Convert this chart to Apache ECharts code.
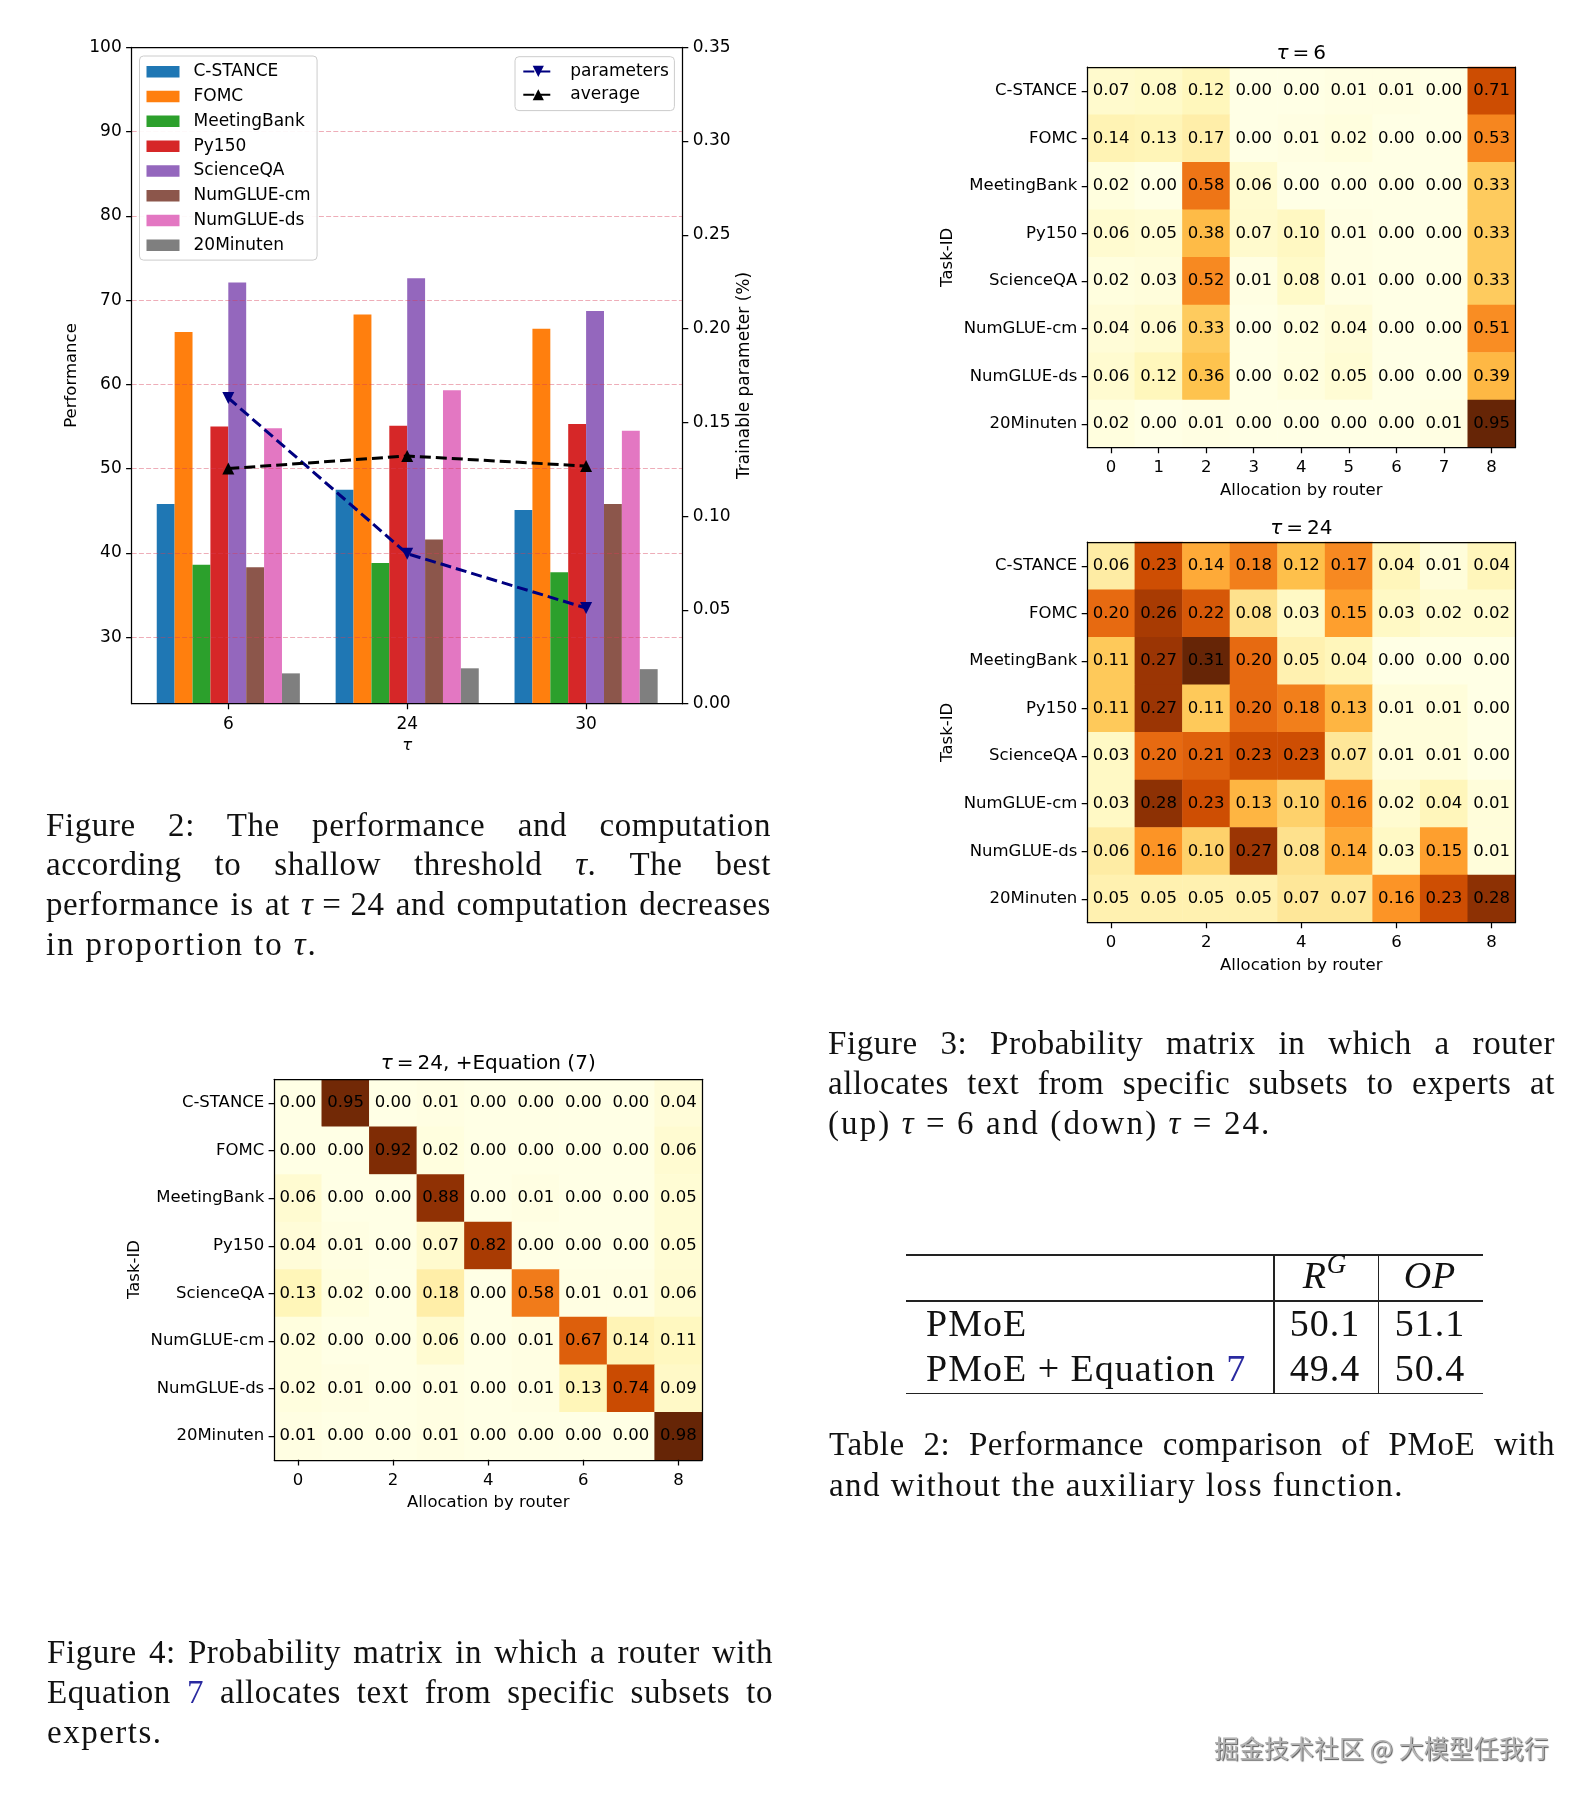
<!DOCTYPE html>
<html lang="en">
<head>
<meta charset="utf-8">
<title>PMoE figures</title>
<script src="https://cdn.jsdelivr.net/npm/echarts@6.0.0/dist/echarts.min.js"></script>
<style>
html,body{margin:0;padding:0;background:#fff;}
#page{position:relative;width:1593px;height:1803px;overflow:hidden;background:#fff;}
#chart{position:absolute;left:0;top:0;width:1593px;height:1803px;}
.cap{position:absolute;font-family:'Liberation Serif','Times New Roman',serif;font-size:33px;letter-spacing:0.6px;color:#111;}
.cap .ln{text-align:justify;text-align-last:justify;}
.cap .ln.last{text-align-last:left;text-align:left;}
.ref{color:#2a2aa0;}
.tbl{position:absolute;font-family:'Liberation Serif','Times New Roman',serif;font-size:38px;letter-spacing:1px;color:#111;line-height:44px;white-space:nowrap;}
.tbl sup{font-size:27px;vertical-align:baseline;position:relative;top:-15px;}
.rule{position:absolute;background:#222;}
#wm{position:absolute;left:1214px;top:1732px;font-family:'Noto Sans CJK SC',sans-serif;font-size:25px;line-height:30px;color:#b4b4b4;white-space:nowrap;
  text-shadow:1px 1px 1px rgba(0,0,0,0.65),-1px -1px 0 rgba(255,255,255,0.9);}
</style>
</head>
<body>
<div id="page">
  <div id="chart"></div>

  <div class="cap" style="left:46px;top:805.5px;width:725px;line-height:39.7px">
    <div class="ln">Figure 2: The performance and computation</div>
    <div class="ln">according to shallow threshold <i>τ</i>. The best</div>
    <div class="ln">performance is at <i>τ</i>&#8197;=&#8197;24 and computation decreases</div>
    <div class="ln last" style="letter-spacing:1.9px">in proportion to <i>τ</i>.</div>
  </div>

  <div class="cap" style="left:828px;top:1022.8px;width:727px;line-height:40.3px">
    <div class="ln">Figure 3: Probability matrix in which a router</div>
    <div class="ln">allocates text from specific subsets to experts at</div>
    <div class="ln last" style="letter-spacing:2.1px">(up) <i>τ</i>&#8197;=&#8197;6 and (down) <i>τ</i>&#8197;=&#8197;24.</div>
  </div>

  <div class="cap" style="left:829px;top:1424.4px;width:726px;line-height:40.4px">
    <div class="ln">Table 2: Performance comparison of PMoE with</div>
    <div class="ln last" style="letter-spacing:1.45px">and without the auxiliary loss function.</div>
  </div>

  <div class="cap" style="left:47px;top:1631.5px;width:726px;line-height:40.2px">
    <div class="ln">Figure 4: Probability matrix in which a router with</div>
    <div class="ln">Equation <span class="ref">7</span> allocates text from specific subsets to</div>
    <div class="ln last" style="letter-spacing:1.5px">experts.</div>
  </div>

  <div class="rule" style="left:906px;top:1254.2px;width:577px;height:1.6px"></div>
  <div class="rule" style="left:906px;top:1300.4px;width:577px;height:1.3px"></div>
  <div class="rule" style="left:906px;top:1392.6px;width:577px;height:1.6px"></div>
  <div class="rule" style="left:1273.3px;top:1254.2px;width:1.3px;height:140px"></div>
  <div class="rule" style="left:1377.7px;top:1254.2px;width:1.3px;height:140px"></div>
  <div id="table"></div>

  <div id="wm">掘金技术社区 @ 大模型任我行</div>
</div>

<script>
// ---------------- data ----------------
const tasks = ['C-STANCE', 'FOMC', 'MeetingBank', 'Py150', 'ScienceQA', 'NumGLUE-cm', 'NumGLUE-ds', '20Minuten'];
const tauTickLabels = ['6', '24', '30'];
const tauPositions = [0, 1, 2];

const perfCSTANCE    = [45.8, 47.5, 45.1];
const perfFOMC       = [66.2, 68.3, 66.6];
const perfMeetingBank= [38.6, 38.8, 37.7];
const perfPy150      = [55.0, 55.1, 55.3];
const perfScienceQA  = [72.1, 72.6, 68.7];
const perfNumGLUEcm  = [38.3, 41.6, 45.8];
const perfNumGLUEds  = [54.8, 59.3, 54.5];
const perf20Minuten  = [25.7, 26.3, 26.2];
const averagePerf    = [50.0, 51.5, 50.3];
const trainableParams= [0.163, 0.080, 0.051];

const perfTicks = [30, 40, 50, 60, 70, 80, 90, 100];
const experts = ['0', '1', '2', '3', '4', '5', '6', '7', '8'];

const tau6Matrix = [
  [0.07, 0.08, 0.12, 0.00, 0.00, 0.01, 0.01, 0.00, 0.71],
  [0.14, 0.13, 0.17, 0.00, 0.01, 0.02, 0.00, 0.00, 0.53],
  [0.02, 0.00, 0.58, 0.06, 0.00, 0.00, 0.00, 0.00, 0.33],
  [0.06, 0.05, 0.38, 0.07, 0.10, 0.01, 0.00, 0.00, 0.33],
  [0.02, 0.03, 0.52, 0.01, 0.08, 0.01, 0.00, 0.00, 0.33],
  [0.04, 0.06, 0.33, 0.00, 0.02, 0.04, 0.00, 0.00, 0.51],
  [0.06, 0.12, 0.36, 0.00, 0.02, 0.05, 0.00, 0.00, 0.39],
  [0.02, 0.00, 0.01, 0.00, 0.00, 0.00, 0.00, 0.01, 0.95]
];
const tau24Matrix = [
  [0.06, 0.23, 0.14, 0.18, 0.12, 0.17, 0.04, 0.01, 0.04],
  [0.20, 0.26, 0.22, 0.08, 0.03, 0.15, 0.03, 0.02, 0.02],
  [0.11, 0.27, 0.31, 0.20, 0.05, 0.04, 0.00, 0.00, 0.00],
  [0.11, 0.27, 0.11, 0.20, 0.18, 0.13, 0.01, 0.01, 0.00],
  [0.03, 0.20, 0.21, 0.23, 0.23, 0.07, 0.01, 0.01, 0.00],
  [0.03, 0.28, 0.23, 0.13, 0.10, 0.16, 0.02, 0.04, 0.01],
  [0.06, 0.16, 0.10, 0.27, 0.08, 0.14, 0.03, 0.15, 0.01],
  [0.05, 0.05, 0.05, 0.05, 0.07, 0.07, 0.16, 0.23, 0.28]
];
const tau24EqMatrix = [
  [0.00, 0.95, 0.00, 0.01, 0.00, 0.00, 0.00, 0.00, 0.04],
  [0.00, 0.00, 0.92, 0.02, 0.00, 0.00, 0.00, 0.00, 0.06],
  [0.06, 0.00, 0.00, 0.88, 0.00, 0.01, 0.00, 0.00, 0.05],
  [0.04, 0.01, 0.00, 0.07, 0.82, 0.00, 0.00, 0.00, 0.05],
  [0.13, 0.02, 0.00, 0.18, 0.00, 0.58, 0.01, 0.01, 0.06],
  [0.02, 0.00, 0.00, 0.06, 0.00, 0.01, 0.67, 0.14, 0.11],
  [0.02, 0.01, 0.00, 0.01, 0.00, 0.01, 0.13, 0.74, 0.09],
  [0.01, 0.00, 0.00, 0.01, 0.00, 0.00, 0.00, 0.00, 0.98]
];

const tableRowNames = ['PMoE', 'PMoE + Equation 7'];
const tableRG = [50.1, 49.4];
const tableOP = [51.1, 50.4];

// ---------------- table (HTML text) ----------------
(function () {
  const t = document.getElementById('table');
  const colCenters = [1325, 1430];
  const headTop = 1253, rowTops = [1301, 1346], nameLeft = 926;
  let html = '';
  const cell = (cx, top, inner) =>
    '<div class="tbl" style="left:' + (cx - 80) + 'px;top:' + top + 'px;width:160px;text-align:center">' + inner + '</div>';
  html += cell(colCenters[0], headTop, '<i>R</i><sup><i>G</i></sup>');
  html += cell(colCenters[1], headTop, '<i>OP</i>');
  tableRowNames.forEach((nm, i) => {
    const shown = nm.replace(/7$/, '<span class="ref">7</span>');
    html += '<div class="tbl" style="left:' + nameLeft + 'px;top:' + rowTops[i] + 'px">' + shown + '</div>';
    html += cell(colCenters[0], rowTops[i], tableRG[i].toFixed(1));
    html += cell(colCenters[1], rowTops[i], tableOP[i].toFixed(1));
  });
  t.innerHTML = html;
})();

// ---------------- chart ----------------
const FONT = 'DejaVu Sans';
const BLACK = '#000';
const taskColors = ['#1f77b4', '#ff7f0e', '#2ca02c', '#d62728', '#9467bd', '#8c564b', '#e377c2', '#7f7f7f'];
const ylOrBr = ['#ffffe5', '#fff7bc', '#fee391', '#fec44f', '#fe9929', '#ec7014', '#cc4c02', '#993404', '#662506'];
const perfByTask = [perfCSTANCE, perfFOMC, perfMeetingBank, perfPy150, perfScienceQA, perfNumGLUEcm, perfNumGLUEds, perf20Minuten];

const axisLine = { show: true, onZero: false, lineStyle: { color: BLACK, width: 1.25 } };
const tickStyle = { color: BLACK, width: 1.25 };
const lbl = { color: BLACK, fontFamily: FONT, fontSize: 16.5 };
const lblBar = { color: BLACK, fontFamily: FONT, fontSize: 17 };

const gridBar = { left: 131.7, top: 47.3, width: 551, height: 656.4 };
const heatGrids = [
  { left: 1087.3, top: 67.1, width: 428, height: 380.5 },
  { left: 1087.3, top: 542.1, width: 428, height: 380.5 },
  { left: 274.2, top: 1079.3, width: 428, height: 380.5 }
];
const heatSets = [
  { title: '{i|τ}\u2009=\u20096', matrix: tau6Matrix, interval: 0, titleTop: 44 },
  { title: '{i|τ}\u2009=\u200924', matrix: tau24Matrix, interval: 1, titleTop: 518.5 },
  { title: '{i|τ}\u2009=\u200924, +Equation (7)', matrix: tau24EqMatrix, interval: 1, titleTop: 1053.5 }
];

const grids = [gridBar].concat(heatGrids).map(g => Object.assign({ containLabel: false, outerBoundsMode: 'none' }, g));

const xAxes = [
  {
    gridIndex: 0, type: 'value', min: -0.54, max: 2.54, position: 'bottom', z: 5,
    axisLine: axisLine,
    axisTick: { show: true, customValues: tauPositions, length: 5.6, lineStyle: tickStyle },
    axisLabel: Object.assign({ customValues: tauPositions, margin: 12, formatter: v => tauTickLabels[tauPositions.indexOf(v)] }, lblBar),
    splitLine: { show: false },
    name: 'τ', nameLocation: 'middle', nameGap: 34,
    nameTextStyle: Object.assign({ fontStyle: 'italic' }, lbl)
  },
  {
    gridIndex: 0, type: 'value', min: -0.54, max: 2.54, position: 'top', z: 5,
    axisLine: axisLine, axisTick: { show: false }, axisLabel: { show: false }, splitLine: { show: false }
  }
];
const yAxes = [
  {
    gridIndex: 0, type: 'value', min: 22.1, max: 100, position: 'left', z: 3,
    axisLine: axisLine,
    axisTick: { show: true, customValues: perfTicks, length: 5.6, lineStyle: tickStyle },
    axisLabel: Object.assign({ customValues: perfTicks, margin: 10 }, lblBar),
    splitLine: { show: true, lineStyle: { color: 'rgba(214,60,85,0.42)', width: 1, type: [5, 2.2] } },
    name: 'Performance', nameLocation: 'middle', nameRotate: 90, nameGap: 51,
    nameTextStyle: lbl
  },
  {
    gridIndex: 0, type: 'value', min: 0, max: 0.35, interval: 0.05, position: 'right', z: 5,
    axisLine: axisLine,
    axisTick: { show: true, length: 5.6, lineStyle: tickStyle },
    axisLabel: Object.assign({ margin: 10, formatter: v => v.toFixed(2), showMinLabel: true, showMaxLabel: true }, lblBar),
    splitLine: { show: false },
    name: 'Trainable parameter (%)', nameLocation: 'middle', nameRotate: 90, nameGap: 53,
    nameTextStyle: lblBar
  }
];

heatSets.forEach((h, k) => {
  const gi = k + 1;
  xAxes.push({
    gridIndex: gi, type: 'category', data: experts, position: 'bottom', z: 5,
    axisLine: axisLine,
    axisTick: { show: true, alignWithLabel: true, interval: h.interval, length: 5.6, lineStyle: tickStyle },
    axisLabel: Object.assign({ interval: h.interval, margin: 12 }, lbl),
    splitLine: { show: false },
    name: 'Allocation by router', nameLocation: 'middle', nameGap: 34.5, nameTextStyle: lbl
  });
  xAxes.push({
    gridIndex: gi, type: 'category', data: experts, position: 'top', z: 5,
    axisLine: axisLine, axisTick: { show: false }, axisLabel: { show: false }, splitLine: { show: false }
  });
  yAxes.push({
    gridIndex: gi, type: 'category', data: tasks, inverse: true, position: 'left', z: 5,
    axisLine: axisLine,
    axisTick: { show: true, alignWithLabel: true, interval: 0, length: 5.6, lineStyle: tickStyle },
    axisLabel: Object.assign({ interval: 0, margin: 10 }, lbl),
    splitLine: { show: false },
    name: 'Task-ID', nameLocation: 'middle', nameRotate: 90, nameGap: 131, nameTextStyle: lbl
  });
  yAxes.push({
    gridIndex: gi, type: 'category', data: tasks, inverse: true, position: 'right', z: 5,
    axisLine: axisLine, axisTick: { show: false }, axisLabel: { show: false }, splitLine: { show: false }
  });
});

const series = [];
tasks.forEach((name, i) => {
  series.push({
    name: name, type: 'bar', xAxisIndex: 0, yAxisIndex: 0,
    data: tauPositions.map((x, j) => [x, perfByTask[i][j]]),
    barGap: '0%', barCategoryGap: '20%',
    itemStyle: { color: taskColors[i] },
    emphasis: { disabled: true }, z: 2
  });
});
series.push({
  name: 'parameters', type: 'line', xAxisIndex: 0, yAxisIndex: 1,
  data: tauPositions.map((x, j) => [x, trainableParams[j]]),
  symbol: 'triangle', symbolRotate: 180, symbolSize: 12,
  lineStyle: { color: '#000080', width: 3, type: [11, 5] },
  itemStyle: { color: '#000080' }, emphasis: { disabled: true }, z: 6
});
series.push({
  name: 'average', type: 'line', xAxisIndex: 0, yAxisIndex: 0,
  data: tauPositions.map((x, j) => [x, averagePerf[j]]),
  symbol: 'triangle', symbolSize: 12,
  lineStyle: { color: '#000', width: 3, type: [11, 5] },
  itemStyle: { color: '#000' }, emphasis: { disabled: true }, z: 6
});
heatSets.forEach((h, k) => {
  const data = [];
  h.matrix.forEach((row, r) => row.forEach((v, c) => data.push([c, r, v])));
  series.push({
    type: 'heatmap', xAxisIndex: 2 + 2 * k, yAxisIndex: 2 + 2 * k,
    data: data,
    label: { show: true, formatter: p => p.value[2].toFixed(2), color: '#000', fontFamily: FONT, fontSize: 16.5 },
    itemStyle: { borderWidth: 0 },
    emphasis: { disabled: true }, z: 2
  });
});

const visualMaps = heatSets.map((h, k) => ({
  type: 'continuous', show: false, seriesIndex: 10 + k, dimension: 2,
  min: 0, max: Math.max.apply(null, h.matrix.flat()),
  inRange: { color: ylOrBr }
}));

const titles = heatSets.map((h, k) => ({
  text: h.title, left: heatGrids[k].left + heatGrids[k].width / 2, top: h.titleTop,
  textAlign: 'center', padding: 0,
  textStyle: {
    fontFamily: FONT, fontSize: 20, fontWeight: 'normal', color: '#000',
    rich: { i: { fontFamily: FONT, fontSize: 20, fontStyle: 'italic', color: '#000' } }
  }
}));

const option = {
  animation: false,
  backgroundColor: 'transparent',
  textStyle: { fontFamily: FONT },
  title: titles,
  grid: grids,
  xAxis: xAxes,
  yAxis: yAxes,
  visualMap: visualMaps,
  legend: [
    {
      data: tasks, orient: 'vertical', left: 139.5, top: 56,
      padding: [6.5, 6.5, 5.5, 7], itemWidth: 33, itemHeight: 11.5, itemGap: 6.3, icon: 'rect',
      textStyle: { fontFamily: FONT, fontSize: 17, color: '#000', lineHeight: 18.5, padding: [0, 0, 0, 9] },
      backgroundColor: 'rgba(255,255,255,0.93)', borderColor: '#cccccc', borderWidth: 1, borderRadius: 4,
      selectedMode: false, z: 4
    },
    {
      data: ['parameters', 'average'], orient: 'vertical', left: 515, top: 56.7,
      padding: [5.5, 5.5, 6.6, 7.3], itemWidth: 30, itemHeight: 14, itemGap: 4.8,
      textStyle: { fontFamily: FONT, fontSize: 17, color: '#000', lineHeight: 18.5, padding: [0, 0, 0, 12] },
      backgroundColor: 'rgba(255,255,255,0.93)', borderColor: '#cccccc', borderWidth: 1, borderRadius: 4,
      selectedMode: false, z: 4
    }
  ],
  series: series
};

const chart = echarts.init(document.getElementById('chart'), null, { renderer: 'canvas', width: 1593, height: 1803 });
chart.setOption(option);
</script>
</body>
</html>
